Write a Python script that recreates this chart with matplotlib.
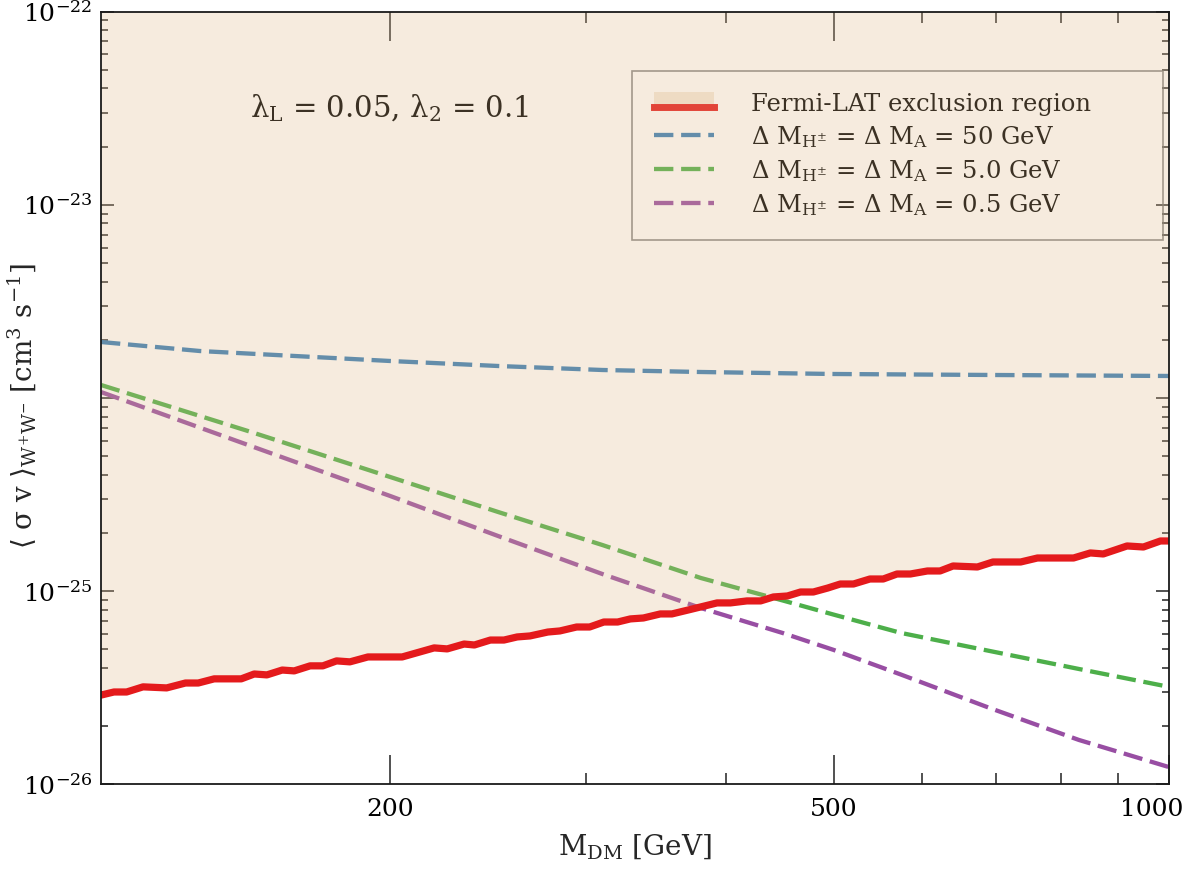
import numpy as np
import matplotlib
matplotlib.use("Agg")
import matplotlib.pyplot as plt
from matplotlib.ticker import FixedLocator, FixedFormatter, NullFormatter, LogLocator
from matplotlib.legend_handler import HandlerBase
from matplotlib.patches import Rectangle
from matplotlib.lines import Line2D
import matplotlib.transforms as mtransforms

plt.rcParams['font.family'] = ['DejaVu Serif']
plt.rcParams['mathtext.fontset'] = 'dejavuserif'

# Fermi-LAT limit (cm^3 s^-1, in units of 1e-26)
fermi_mass = [110, 113, 116, 120, 126, 131, 134.5, 139, 147, 151, 155, 160, 164, 169.5,
              174, 179, 184, 191, 205, 219, 225, 233, 238, 246, 253, 260, 267, 277, 284,
              294, 302, 311, 320, 328.5, 337.5, 349.5, 358, 372, 393, 404, 418, 430, 441.5,
              454.5, 467, 479.5, 494, 507, 521, 539, 554, 570, 586, 607, 623, 640, 673, 695,
              736, 762, 821, 850, 873, 917, 948.5, 982.5, 1000]
fermi_sv = [2.90, 3.01, 3.01, 3.20, 3.16, 3.35, 3.35, 3.52, 3.52, 3.73, 3.69, 3.91, 3.87, 4.11,
            4.11, 4.36, 4.31, 4.57, 4.57, 5.09, 5.03, 5.33, 5.27, 5.59, 5.59, 5.80, 5.87, 6.15,
            6.23, 6.53, 6.53, 6.93, 6.93, 7.19, 7.27, 7.63, 7.63, 8.05, 8.70, 8.70, 8.91, 8.91,
            9.34, 9.45, 9.91, 9.91, 10.39, 10.90, 10.90, 11.57, 11.57, 12.28, 12.28, 12.73,
            12.73, 13.51, 13.35, 14.17, 14.17, 14.86, 14.86, 15.78, 15.59, 17.15, 16.94,
            18.20, 18.20]

# model curves (units of 1e-26)
blue_mass = [110, 135, 200, 250, 310, 380, 500, 700, 1000]
blue_sv = [194.9, 175.0, 155.4, 146.4, 139.6, 136.3, 133.1, 131.5, 130.0]

mass = [110, 150, 200, 250, 310, 380, 450, 500, 575, 690, 830, 1000]
green_sv = [116.8, 66.7, 39.0, 25.7, 17.35, 11.71, 8.96, 7.57, 6.08, 4.91, 3.96, 3.20]
purple_sv = [107.4, 56.4, 31.1, 19.3, 12.28, 8.19, 6.08, 4.97, 3.70, 2.49, 1.70, 1.23]

labels = ["Fermi-LAT exclusion region",
          r"Δ M$_{\rm H^{\pm}}$ = Δ M$_{\rm A}$ = 50 GeV",
          r"Δ M$_{\rm H^{\pm}}$ = Δ M$_{\rm A}$ = 5.0 GeV",
          r"Δ M$_{\rm H^{\pm}}$ = Δ M$_{\rm A}$ = 0.5 GeV"]

red = '#e41a1c'
blue = '#377eb8'
green = '#4daf4a'
purple = '#984ea3'
shade = 'burlywood'

scale = 1e-26


class FillLineHandler(HandlerBase):
    def create_artists(self, legend, orig_handle, xdescent, ydescent, width, height, fontsize, trans):
        rect = Rectangle((-xdescent, -ydescent + height * 0.35), width, height * 0.75,
                         facecolor=shade, alpha=0.3, edgecolor='none', transform=trans)
        line = Line2D([-xdescent, -xdescent + width], [-ydescent + height * 0.25] * 2,
                      color=red, lw=5, transform=trans)
        return [rect, line]


fig = plt.figure(figsize=(11.82, 8.86), dpi=100)
ax = fig.add_axes([0.0854, 0.1146, 0.9036, 0.8724])

fx = np.array(fermi_mass)
fy = np.array(fermi_sv) * scale

dash = (4.5, 1.8)
l1, = ax.plot(blue_mass, np.array(blue_sv) * scale, color=blue, lw=3.1, dashes=dash, zorder=2)
l2, = ax.plot(mass, np.array(green_sv) * scale, color=green, lw=3.1, dashes=dash, zorder=2)
l3, = ax.plot(mass, np.array(purple_sv) * scale, color=purple, lw=3.1, dashes=dash, zorder=2)
# the shaded region sits on top of the curves, legend and label
ax.fill_between(fx, fy, 1e-22, color=shade, alpha=0.27, lw=0, zorder=8)
ax.plot(fx, fy, color=red, lw=5.2, solid_joinstyle='round', solid_capstyle='round', zorder=9)

ax.set_xscale('log')
ax.set_yscale('log')
ax.set_xlim(110, 1000)
ax.set_ylim(1e-26, 1e-22)

ax.xaxis.set_major_locator(FixedLocator([200, 500, 1000]))
ax.xaxis.set_major_formatter(FixedFormatter(['200', '500', '1000']))
ax.xaxis.set_minor_locator(FixedLocator([300, 400, 600, 700, 800, 900]))
ax.xaxis.set_minor_formatter(NullFormatter())
ax.yaxis.set_major_locator(FixedLocator([1e-26, 1e-25, 1e-24, 1e-23, 1e-22]))
ax.yaxis.set_major_formatter(FixedFormatter([r'$10^{-26}$', r'$10^{-25}$', '',
                                             r'$10^{-23}$', r'$10^{-22}$']))
ax.yaxis.set_minor_locator(LogLocator(base=10, subs=np.arange(2, 10), numticks=20))
ax.yaxis.set_minor_formatter(NullFormatter())

ax.tick_params(which='both', direction='in', top=True, right=True, width=1.1, color='#222222')
ax.tick_params(axis='x', which='major', length=21, labelsize=18, pad=10)
ax.tick_params(axis='x', which='minor', length=8)
ax.tick_params(axis='y', which='major', length=9.5, labelsize=18, pad=6)
ax.tick_params(axis='y', which='minor', length=5)
for s in ax.spines.values():
    s.set_linewidth(1.3)
    s.set_color('#1a1a1a')
    s.set_zorder(10)

# nudge the last x label inside the figure
lab = ax.get_xticklabels()[-1]
lab.set_transform(lab.get_transform() + mtransforms.ScaledTranslation(-0.17, 0, fig.dpi_scale_trans))

ax.set_xlabel(r"M$_{\rm DM}$ [GeV]", fontsize=20, color='#262626', labelpad=8)
ax.set_ylabel(r"$\langle$ σ v $\rangle_{\rm W^{+}W^{-}}$ [cm$^{3}$ s$^{-1}$]", fontsize=20,
              color='#262626', va='center')
ax.yaxis.set_label_coords(-0.074, 0.49)

ax.text(0.14, 0.875, r"λ$_{\rm L}$ = 0.05, λ$_{2}$ = 0.1", transform=ax.transAxes,
        fontsize=21, color='black', va='center', ha='left', zorder=6)

fermi_handle = object()
leg = ax.legend([fermi_handle, l1, l2, l3], labels,
                handler_map={object: FillLineHandler()},
                loc='upper left', bbox_to_anchor=(0.497, 0.702, 0.497, 0.221), mode='expand',
                borderaxespad=0, fontsize=17.5, frameon=True, fancybox=False,
                handlelength=2.5, handletextpad=1.5, labelspacing=0.33, borderpad=0.9)
leg.get_frame().set_facecolor('none')
leg.get_frame().set_edgecolor('#707070')
leg.get_frame().set_linewidth(1.2)
for t in leg.get_texts():
    t.set_color('black')
leg.set_zorder(7)

fig.savefig('out.png', dpi=100)
